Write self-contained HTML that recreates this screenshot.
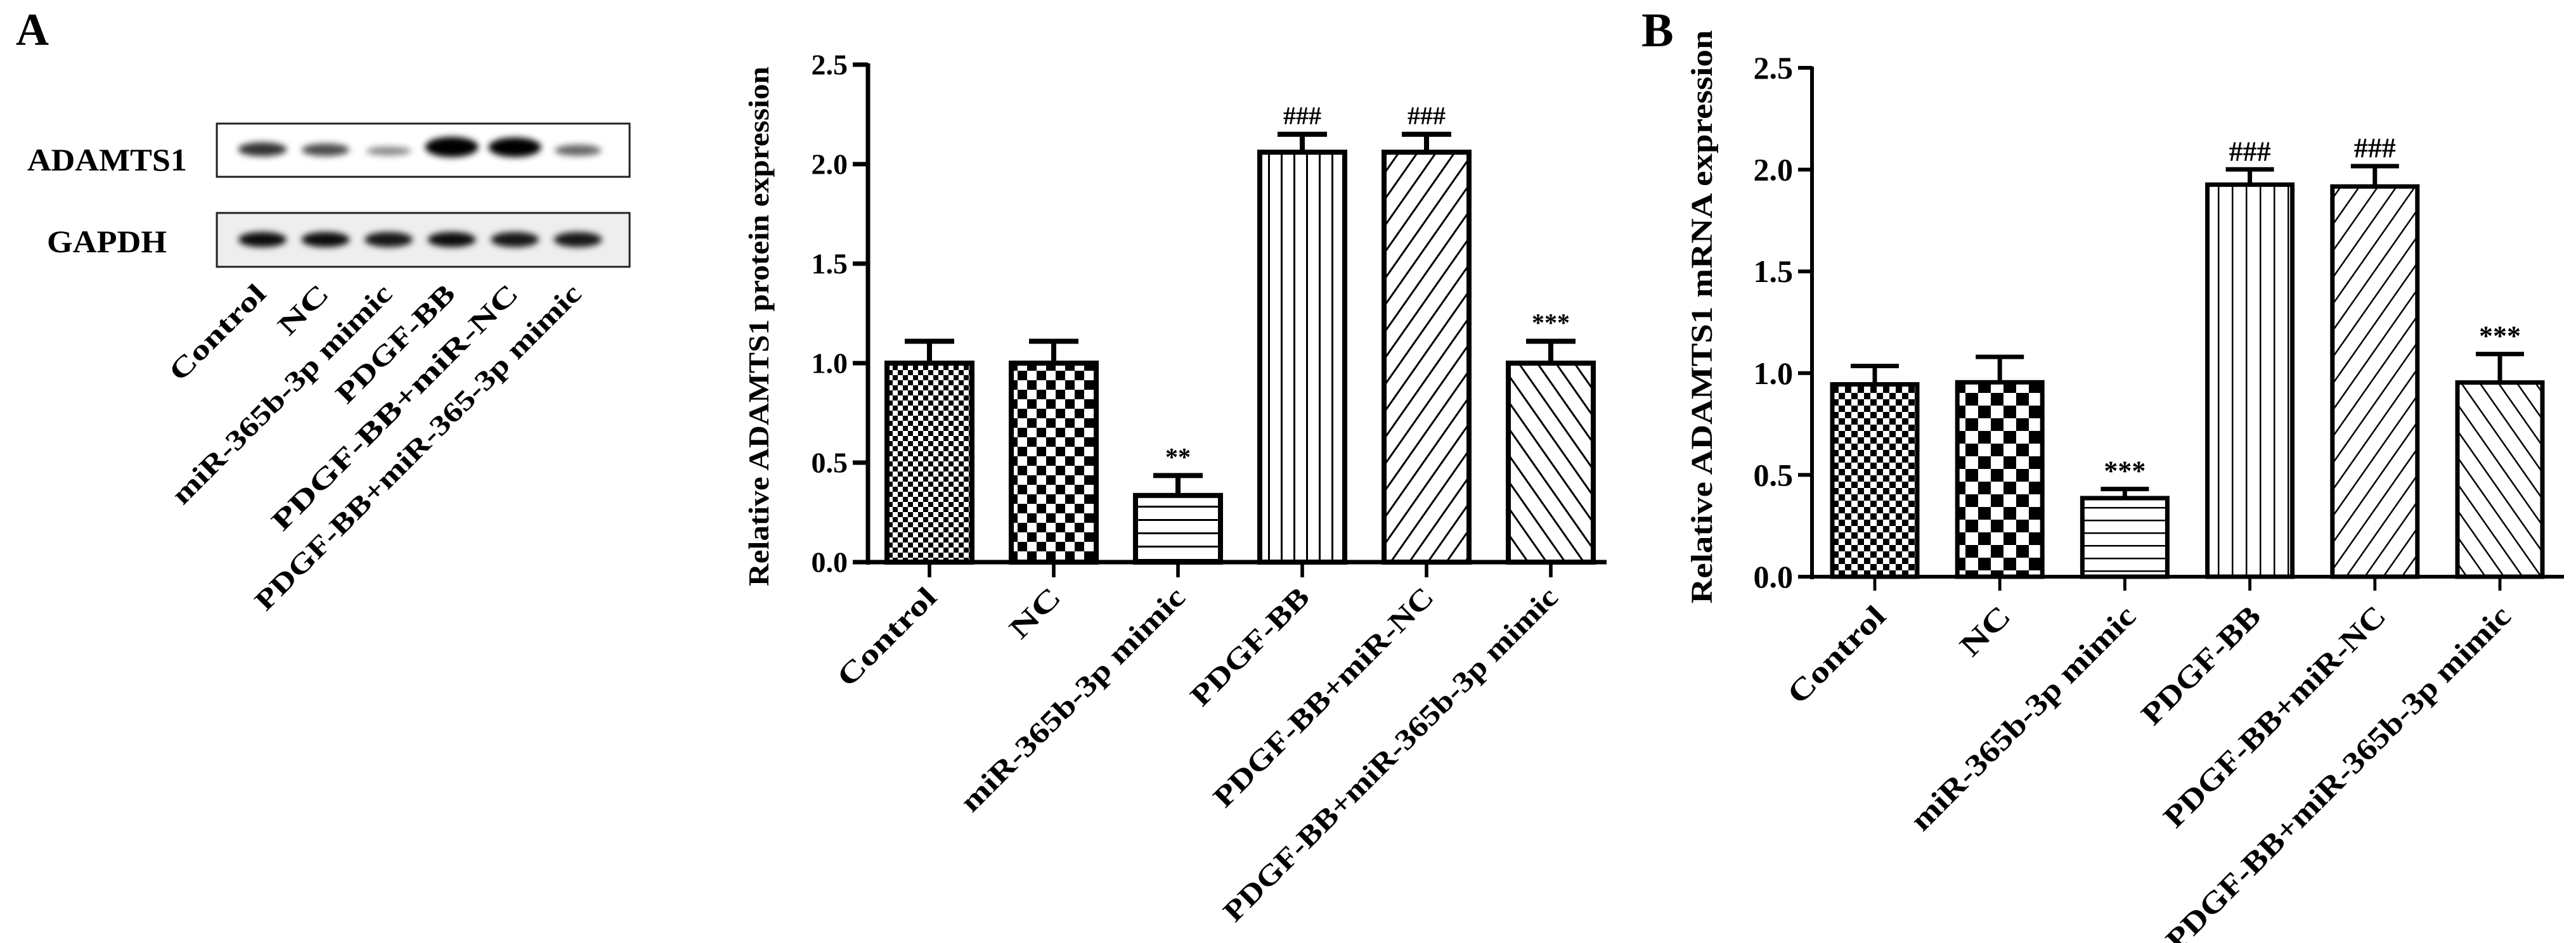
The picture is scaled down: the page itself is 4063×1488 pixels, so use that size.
<!DOCTYPE html>
<html><head><meta charset="utf-8"><style>
html,body{margin:0;padding:0;background:#fff;}
svg{display:block;font-family:"Liberation Serif",serif;font-weight:bold;}
</style></head><body>
<svg id="fig" width="4063" height="1488" viewBox="0 0 4063 1488" xmlns="http://www.w3.org/2000/svg">
<defs>
<pattern id="pA0" patternUnits="userSpaceOnUse" width="16" height="16"><rect width="16" height="16" fill="#fff"/><rect width="8" height="8" fill="#000"/><rect x="8" y="8" width="8" height="8" fill="#000"/></pattern>
<pattern id="pA1" patternUnits="userSpaceOnUse" width="30" height="30"><rect width="30" height="30" fill="#fff"/><rect width="15" height="15" fill="#000"/><rect x="15" y="15" width="15" height="15" fill="#000"/></pattern>
<pattern id="pA2" patternUnits="userSpaceOnUse" width="20" height="21"><rect width="20" height="21" fill="#fff"/><rect y="0" width="20" height="3" fill="#000"/></pattern>
<pattern id="pA3" patternUnits="userSpaceOnUse" width="20" height="20"><rect width="20" height="20" fill="#fff"/><rect x="0" width="3" height="20" fill="#000"/></pattern>
<pattern id="pA4" patternUnits="userSpaceOnUse" width="24" height="24" patternTransform="rotate(35)"><rect width="24" height="24" fill="#fff"/><rect x="0" width="3" height="24" fill="#000"/></pattern>
<pattern id="pA5" patternUnits="userSpaceOnUse" width="24" height="24" patternTransform="rotate(-35)"><rect width="24" height="24" fill="#fff"/><rect x="0" width="3" height="24" fill="#000"/></pattern>
<pattern id="pB0" patternUnits="userSpaceOnUse" width="20" height="20"><rect width="20" height="20" fill="#fff"/><rect width="10" height="10" fill="#000"/><rect x="10" y="10" width="10" height="10" fill="#000"/></pattern>
<pattern id="pB1" patternUnits="userSpaceOnUse" width="40" height="40"><rect width="40" height="40" fill="#fff"/><rect width="20" height="20" fill="#000"/><rect x="20" y="20" width="20" height="20" fill="#000"/></pattern>
<pattern id="pB2" patternUnits="userSpaceOnUse" width="20" height="20"><rect width="20" height="20" fill="#fff"/><rect width="20" height="2.5" fill="#000"/></pattern>
<pattern id="pB3" patternUnits="userSpaceOnUse" width="22" height="22"><rect width="22" height="22" fill="#fff"/><rect width="2.5" height="22" fill="#000"/></pattern>
<pattern id="pB4" patternUnits="userSpaceOnUse" width="24" height="24" patternTransform="rotate(35)"><rect width="24" height="24" fill="#fff"/><rect width="2.5" height="24" fill="#000"/></pattern>
<pattern id="pB5" patternUnits="userSpaceOnUse" width="24" height="24" patternTransform="rotate(-35)"><rect width="24" height="24" fill="#fff"/><rect width="2.5" height="24" fill="#000"/></pattern>
<filter id="blur"><feGaussianBlur stdDeviation="5"/></filter>
</defs>

<text x="25" y="71" font-size="72">A</text>
<text x="2589" y="73" font-size="76">B</text>

<g>
<text x="43" y="269" font-size="50" textLength="252" lengthAdjust="spacingAndGlyphs">ADAMTS1</text>
<text x="74" y="398" font-size="50" textLength="189" lengthAdjust="spacingAndGlyphs">GAPDH</text>
<rect x="342" y="195" width="651" height="84" fill="#fff" stroke="#222" stroke-width="3"/>
<rect x="342" y="336" width="651" height="85" fill="#eee" stroke="#222" stroke-width="3"/>
<g id="bands" filter="url(#blur)"></g>
<g id="blotLabels"></g>
</g>

<g id="chartA"></g>
<g id="chartB"></g>
</svg>
<script>
const categories = ["Control","NC","miR-365b-3p mimic","PDGF-BB","PDGF-BB+miR-NC","PDGF-BB+miR-365b-3p mimic"];
const blotCategories = ["Control","NC","miR-365b-3p mimic","PDGF-BB","PDGF-BB+miR-NC","PDGF-BB+miR-365-3p mimic"];
const valuesA = [1.00, 1.00, 0.335, 2.06, 2.06, 1.00];
const errA = [0.11, 0.11, 0.10, 0.09, 0.09, 0.11];
const annotA = ["", "", "**", "###", "###", "***"];
const valuesB = [0.945, 0.955, 0.386, 1.926, 1.917, 0.954];
const errB = [0.09, 0.125, 0.045, 0.075, 0.10, 0.14];
const annotB = ["", "", "***", "###", "###", "***"];
const yTicks = [0, 0.5, 1.0, 1.5, 2.0, 2.5];
const yTickLabels = ["0.0","0.5","1.0","1.5","2.0","2.5"];
const adamtsIntensity = [0.55, 0.45, 0.2, 1.0, 0.95, 0.35];
const gapdhIntensity = [0.95, 0.95, 0.9, 0.95, 0.9, 0.9];

const NS = "http://www.w3.org/2000/svg";
function mk(tag, attrs, parent, text){
  const e = document.createElementNS(NS, tag);
  for (const k in attrs) e.setAttribute(k, attrs[k]);
  if (text !== undefined) e.textContent = text;
  parent.appendChild(e);
  return e;
}

const bands = document.getElementById('bands');
const blotLabels = document.getElementById('blotLabels');
const laneX = i => 414 + i * 99.5;
const blotLabelLen = [195, 93, 470, 245, 529, 707];
blotCategories.forEach((c, i) => {
  const a = adamtsIntensity[i];
  const h = 10 + a * 22;
  const b = mk('ellipse', {cx: laneX(i), cy: 240 - a * 8, rx: 34 + a * 8, ry: h / 2, fill: '#000', opacity: Math.min(1, 0.25 + a)}, bands);
  
  
  const g = gapdhIntensity[i];
  const gb = mk('ellipse', {cx: laneX(i), cy: 378, rx: 38, ry: 12, fill: '#000', opacity: g}, bands);
  
  
  const ex = laneX(i) + 8, ey = 466;
  const t = mk('text', {x: ex, y: ey, 'font-size': 44, 'text-anchor': 'end', transform: `rotate(-45 ${ex} ${ey})`, textLength: blotLabelLen[i], lengthAdjust: 'spacingAndGlyphs'}, blotLabels, c);
  
  
});

function drawChart(opt){
  const g = document.getElementById(opt.id);
  const y = v => opt.y0 - v * opt.unit;
  const cx = i => opt.c0 + i * opt.pitch;
  const tx = opt.titleX, ty = opt.titleY;
  const yt = mk('text', {x: tx, y: ty, 'font-size': opt.titleFont, 'text-anchor': 'middle', transform: `rotate(-90 ${tx} ${ty})`, textLength: opt.titleLen, lengthAdjust: 'spacingAndGlyphs'}, g, opt.title);
  
  
  const ya = mk('line', {x1: opt.axisX, y1: y(2.5) - 2, x2: opt.axisX, y2: y(0) + 4, stroke: '#000', 'stroke-width': opt.axisW}, g);
  
  
  const xa = mk('line', {x1: opt.axisX - opt.tickLen, y1: y(0), x2: opt.axisEnd, y2: y(0), stroke: '#000', 'stroke-width': opt.axisW}, g);
  
  
  yTicks.forEach((v, k) => {
    const tk = mk('line', {x1: opt.axisX - opt.tickLen, y1: y(v), x2: opt.axisX, y2: y(v), stroke: '#000', 'stroke-width': opt.axisW}, g);
    
    
    const tl = mk('text', {x: opt.axisX - opt.tickLen - 8, y: y(v) + opt.tickFont * 0.34, 'font-size': opt.tickFont, 'text-anchor': 'end'}, g, yTickLabels[k]);
    
    
  });
  opt.values.forEach((v, i) => {
    const x = cx(i);
    const bar = mk('rect', {x: x - opt.bw / 2, y: y(v), width: opt.bw, height: y(0) - y(v), fill: `url(#${opt.pat}${i})`, stroke: '#000', 'stroke-width': opt.barW}, g);
    
    
    const top = y(v + opt.err[i]);
    const eb = mk('line', {x1: x, y1: y(v), x2: x, y2: top, stroke: '#000', 'stroke-width': opt.barW}, g);
    
    
    const ec = mk('line', {x1: x - opt.capW / 2, y1: top, x2: x + opt.capW / 2, y2: top, stroke: '#000', 'stroke-width': opt.barW}, g);
    
    
    if (opt.annot[i]) {
      const an = mk('text', {x: x, y: top - opt.annotGap, 'font-size': opt.annotFont, 'text-anchor': 'middle'}, g, opt.annot[i]);
      
      
    }
    const xt = mk('line', {x1: x, y1: y(0), x2: x, y2: y(0) + opt.tickLen, stroke: '#000', 'stroke-width': opt.axisW * 0.8}, g);
    
    
    const lx = x + opt.labDx, ly = opt.labY;
    const attrs = {x: lx, y: ly, 'font-size': opt.labFont, 'text-anchor': 'end', transform: `rotate(-45 ${lx} ${ly})`};
    if (opt.labLen) { attrs.textLength = opt.labLen[i]; attrs.lengthAdjust = 'spacingAndGlyphs'; }
    const xl = mk('text', attrs, g, categories[i]);
    
    
  });
}

drawChart({id: 'chartA', values: valuesA, err: errA, annot: annotA, pat: 'pA',
  y0: 887, unit: 314, c0: 1466, pitch: 196, bw: 134, axisX: 1369, axisEnd: 2534, axisW: 7, tickLen: 24,
  tickFont: 46, barW: 8, capW: 78, annotGap: 16, annotFont: 40,
  labDx: 14, labY: 945, labFont: 46, labLen: [200, 93, 479, 243, 469, 724],
  title: 'Relative ADAMTS1 protein expression', titleX: 1212, titleY: 515, titleFont: 46, titleLen: 820});

drawChart({id: 'chartB', values: valuesB, err: errB, annot: annotB, pat: 'pB',
  y0: 910, unit: 321.2, c0: 2957, pitch: 197.2, bw: 134, axisX: 2858, axisEnd: 4044, axisW: 6, tickLen: 22,
  tickFont: 50, barW: 7, capW: 76, annotGap: 14, annotFont: 44,
  labDx: 20, labY: 975, labFont: 48, labLen: [196, 90, 479, 243, 472, 746],
  title: 'Relative ADAMTS1 mRNA expression', titleX: 2700, titleY: 500, titleFont: 48, titleLen: 905});
</script>
</body></html>
